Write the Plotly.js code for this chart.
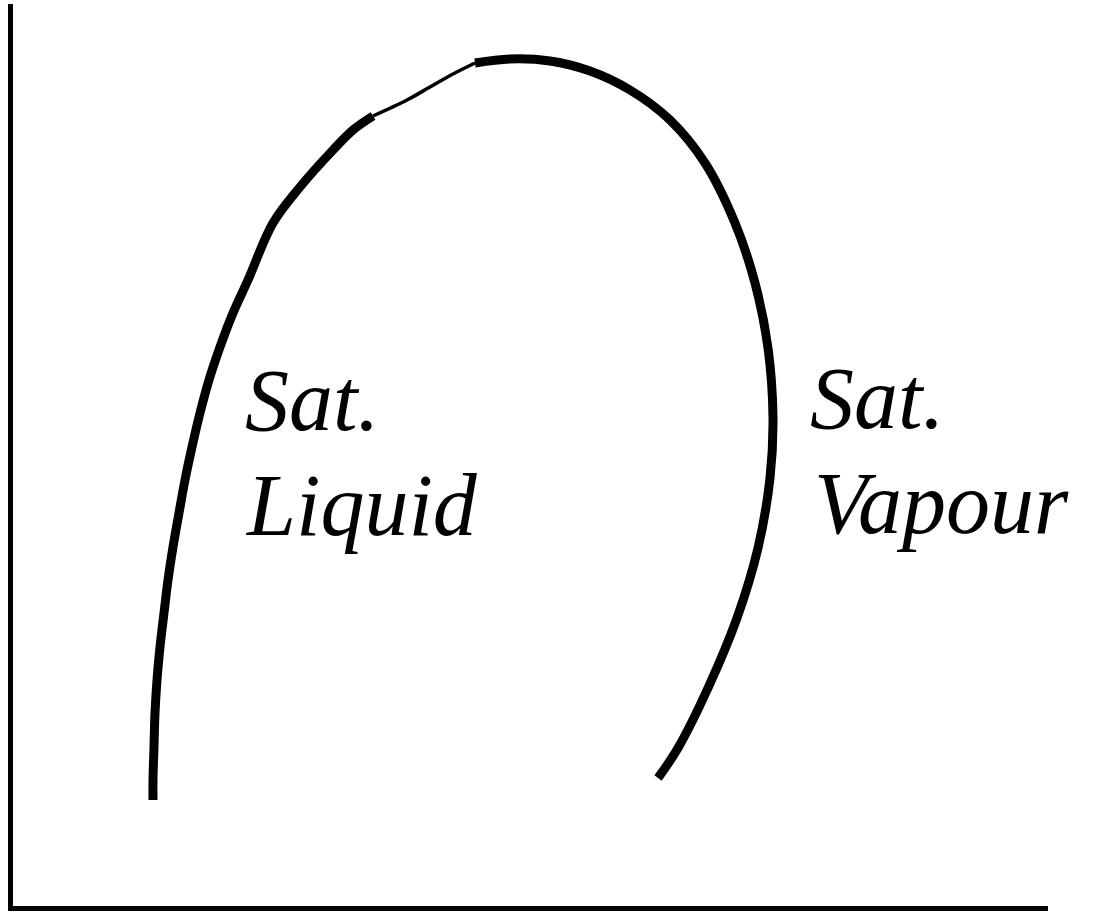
<!DOCTYPE html>
<html>
<head>
<meta charset="utf-8">
<script src="https://cdn.plot.ly/plotly-3.0.1.min.js"></script>
<style>html,body{margin:0;padding:0;background:#fff;}#chart{width:1094px;height:923px;}</style>
</head>
<body>
<div id="chart"></div>
<script>
// Saturated liquid branch (entropy s, temperature T, arbitrary units)
const liquidS = [1.43, 1.43, 1.44, 1.45, 1.47, 1.50, 1.54, 1.58, 1.63, 1.69, 1.75, 1.82, 1.90, 1.99, 2.10, 2.23, 2.38, 2.63, 2.90, 3.23, 3.43, 3.63];
const liquidT = [1.08, 1.28, 1.61, 1.95, 2.28, 2.61, 2.95, 3.28, 3.61, 3.95, 4.28, 4.61, 4.95, 5.28, 5.61, 5.95, 6.28, 6.85, 7.21, 7.58, 7.78, 7.92];
// Thin segment approaching the critical point
const thinS = [3.63, 3.97, 4.20, 4.43, 4.65];
const thinT = [7.92, 8.08, 8.21, 8.34, 8.45];
// Top of dome and saturated vapour branch
const vapourS = [4.65, 5.00, 5.40, 5.80, 6.20, 6.60, 6.95, 7.25, 7.45, 7.58, 7.63, 7.60, 7.48, 7.27, 6.98, 6.68, 6.48];
const vapourT = [8.45, 8.49, 8.47, 8.37, 8.18, 7.88, 7.45, 6.85, 6.25, 5.60, 4.90, 4.30, 3.60, 2.90, 2.20, 1.60, 1.30];

const labels = [
  {text: 'Sat.', s: 2.33, T: 5.08},
  {text: 'Liquid', s: 2.33, T: 4.03},
  {text: 'Sat.', s: 7.98, T: 5.10},
  {text: 'Vapour', s: 8.02, T: 4.05}
];

const lineStyle = (w) => ({color: '#000', width: w, shape: 'spline', smoothing: 1});
const traces = [
  {x: liquidS, y: liquidT, mode: 'lines', line: lineStyle(9), hoverinfo: 'skip'},
  {x: thinS, y: thinT, mode: 'lines', line: lineStyle(3.5), hoverinfo: 'skip'},
  {x: vapourS, y: vapourT, mode: 'lines', line: lineStyle(9), hoverinfo: 'skip'}
];

const annotations = labels.map(l => ({
  x: l.s, y: l.T, xref: 'x', yref: 'y', text: '<i>' + l.text + '</i>',
  showarrow: false, xanchor: 'left', yanchor: 'middle',
  font: {family: 'Liberation Serif, Times New Roman, serif', size: 88, color: '#000'}
}));

const axisBase = {showgrid: false, zeroline: false, showticklabels: false, ticks: '',
  showline: true, linecolor: '#000', linewidth: 5, fixedrange: true};

const layout = {
  width: 1094, height: 923,
  margin: {l: 13, r: 46, t: 4, b: 17},
  paper_bgcolor: '#fff', plot_bgcolor: '#fff',
  showlegend: false,
  xaxis: Object.assign({}, axisBase, {range: [0.03, 10.38]}),
  yaxis: Object.assign({}, axisBase, {range: [0.02, 9.04]}),
  annotations: annotations
};

Plotly.newPlot('chart', traces, layout, {displayModeBar: false, staticPlot: true});
</script>
</body>
</html>
